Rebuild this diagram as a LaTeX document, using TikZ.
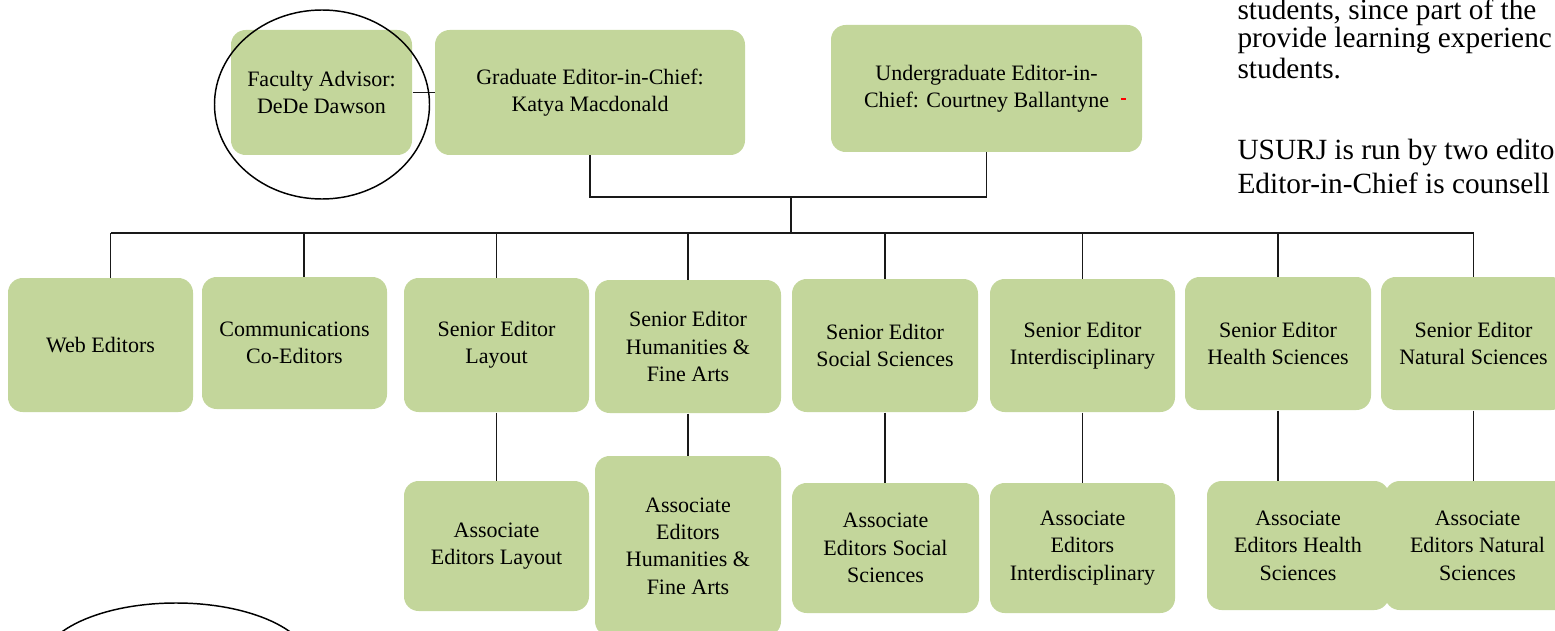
\documentclass[tikz,border=0pt]{standalone}
\usepackage{fontspec}
\setmainfont{Liberation Serif}
\newfontfamily\chartfont{Liberation Serif}
\usetikzlibrary{positioning}

\definecolor{boxgreen}{RGB}{195,214,155}
\tikzset{every picture/.style={line width=0.75pt}}
\tikzset{
  orgbox/.style={fill=boxgreen, rounded corners=11pt, align=center, inner sep=2pt,
    font=\chartfont\fontsize{16.5}{20.5}\selectfont},
  sized/.style 2 args={minimum width=#1*0.75pt, minimum height=#2*0.75pt},
  link/.style={line width=1.1pt, draw=black!90},
  bodytext/.style={anchor=base west, inner sep=0pt, font=\chartfont\fontsize{22}{26}\selectfont},
}

\begin{document}
\begin{tikzpicture}[x=0.75pt,y=0.75pt,yscale=-1,xscale=1]
\useasboundingbox (0,0) rectangle (1555,631);
\clip (0,0) rectangle (1555,631);

%Top row
\node [orgbox, sized={181}{125}] (fac) at (321.5,92.5) {Faculty Advisor:\\DeDe Dawson};
\node [orgbox, sized={310}{125}] (grad) at (590,92.5) {Graduate Editor-in-Chief:\\Katya Macdonald};
\node [orgbox, sized={311}{127}] (ugrad) at (986.5,88.5) {Undergraduate Editor-in-\\Chief: Courtney Ballantyne};

%Senior editors
\node [orgbox, sized={185}{134}] (web) at (100.5,345) {Web Editors};
\node [orgbox, sized={185}{132}] (comm) at (294.5,343) {Communications\\Co-Editors};
\node [orgbox, sized={185}{134}] (slay) at (496.5,345) {Senior Editor\\Layout};
\node [orgbox, sized={186}{133}] (shum) at (688,346.5) {Senior Editor\\Humanities \&\\Fine Arts};
\node [orgbox, sized={186}{133}] (ssoc) at (885,345.5) {Senior Editor\\Social Sciences};
\node [orgbox, sized={185}{133}] (sint) at (1082.5,345.5) {Senior Editor\\Interdisciplinary};
\node [orgbox, sized={186}{133}] (shea) at (1278,343.5) {Senior Editor\\Health Sciences};
\node [orgbox, sized={185}{133}] (snat) at (1473.5,343.5) {Senior Editor\\Natural Sciences};

%Associate editors
\node [orgbox, sized={185}{130}] (alay) at (496.5,546) {Associate\\Editors Layout};
\node [orgbox, sized={186}{180}] (ahum) at (688,546) {Associate\\Editors\\Humanities \&\\Fine Arts};
\node [orgbox, sized={187}{130}] (asoc) at (885.5,548) {Associate\\Editors Social\\Sciences};
\node [orgbox, sized={185}{130}] (aint) at (1082.5,548) {Associate\\Editors\\Interdisciplinary};
\node [orgbox, sized={182}{129}] (ahea) at (1298,545.5) {Associate\\Editors Health\\Sciences};
\node [orgbox, sized={185}{129}] (anat) at (1477.5,545.5) {Associate\\Editors Natural\\Sciences};

%Connectors
\coordinate (join) at (791,197);
\coordinate (bus) at (791,233);
\coordinate (webtop) at ([xshift=7.5pt]web.north);
\coordinate (commtop) at ([xshift=7pt]comm.north);
\draw [link] (fac.east) -- (grad.west);
\draw [link] (grad.south) -- (grad.south |- join) -- (ugrad.south |- join) -- (ugrad.south);
\draw [link] (join) -- (bus);
\draw [link] (webtop |- bus) -- (snat.north |- bus);
\draw [link] (webtop |- bus) -- (webtop);
\draw [link] (commtop |- bus) -- (commtop);
\draw [link] (slay.north |- bus) -- (slay.north);
\draw [link] (shum.north |- bus) -- (shum.north);
\draw [link] (ssoc.north |- bus) -- (ssoc.north);
\draw [link] (sint.north |- bus) -- (sint.north);
\draw [link] (shea.north |- bus) -- (shea.north);
\draw [link] (snat.north |- bus) -- (snat.north);
\draw [link] (slay.south) -- (slay.south |- alay.north);
\draw [link] (shum.south) -- (shum.south |- ahum.north);
\draw [link] (ssoc.south) -- (ssoc.south |- asoc.north);
\draw [link] (sint.south) -- (sint.south |- aint.north);
\draw [link] (shea.south) -- (shea.south |- ahea.north);
\draw [link] (snat.south) -- (snat.south |- anat.north);

%Ellipses
\draw [line width=1.1pt] (322,104.5) ellipse [x radius=107.5, y radius=94.5];
\draw [line width=1.1pt] (176,665) ellipse [x radius=135, y radius=62];
%red mark
\fill [red] (1121,98.3) rectangle (1125.5,100);

% Text Node
\node [bodytext] (t1) at (1237,20) {students, since part of the};
\node [bodytext] (t2) at (1237,48) {provide learning experienc};
\node [bodytext] (t3) at (1237,79) {students.};
\node [bodytext] (t4) at (1237,160) {USURJ is run by two edito};
\node [bodytext] (t5) at (1237,193) {Editor-in-Chief is counsell};

\end{tikzpicture}
\end{document}
